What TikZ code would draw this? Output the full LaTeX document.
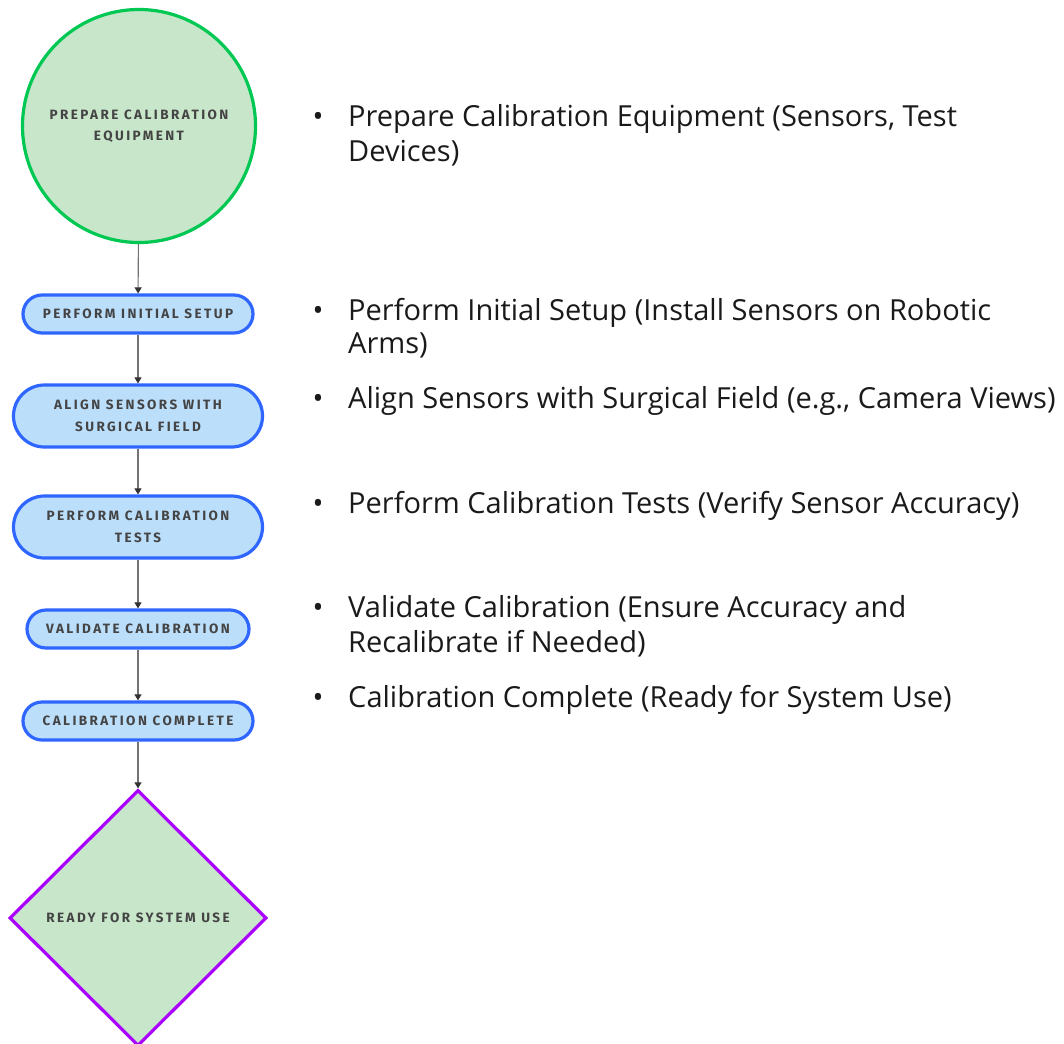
\documentclass[tikz,border=0pt]{standalone}
\usepackage{fontspec}
\setmainfont{Open Sans}
\newfontfamily\lblfont[LetterSpace=18]{Fira Sans}
\usetikzlibrary{shapes.geometric,arrows.meta}
\definecolor{cfill}{HTML}{C8E6C9}
\definecolor{cgreen}{HTML}{00C853}
\definecolor{bfill}{HTML}{BBDEFB}
\definecolor{bblue}{HTML}{2F66FF}
\definecolor{purp}{HTML}{AA00FF}
\definecolor{lbl}{HTML}{444444}
\definecolor{txt}{HTML}{1A1A1A}
\begin{document}
\begin{tikzpicture}[x=1pt,y=-1pt,
  lbltext/.style={font=\lblfont\bfseries\fontsize{13.5}{21.5}\selectfont, text=lbl, align=center},
  stepbox/.style={lbltext, draw=bblue, line width=3.2pt, fill=bfill, inner sep=0pt},
  startnode/.style={lbltext, circle, draw=cgreen, line width=3.2pt, fill=cfill, inner sep=0pt},
  endnode/.style={lbltext, diamond, draw=purp, line width=3.2pt, fill=cfill, inner sep=0pt, aspect=1},
  conn/.style={draw=black!55, line width=1.1pt, -{Triangle[length=6pt,width=7pt,color=black!80]}},
  item/.style={font=\fontsize{29}{34}\selectfont, text=txt, inner sep=0pt, anchor=base west},
  dot/.style={font=\fontsize{29}{34}\selectfont, text=txt, inner sep=0pt, anchor=base}]
\useasboundingbox (0,0) rectangle (1064,1043);
\fill[white] (0,0) rectangle (1064,1043);

\node[startnode, minimum size=233pt] (c0) at (139,126) {PREPARE CALIBRATION\\EQUIPMENT};
\node[stepbox, minimum width=230pt, minimum height=38pt, rounded corners=19pt] (s1) at (138,314) {PERFORM INITIAL SETUP};
\node[stepbox, minimum width=249pt, minimum height=62pt, rounded corners=31pt] (s2) at (138,416) {ALIGN SENSORS WITH\\SURGICAL FIELD};
\node[stepbox, minimum width=249pt, minimum height=62pt, rounded corners=31pt] (s3) at (138,527) {PERFORM CALIBRATION\\TESTS};
\node[stepbox, minimum width=222pt, minimum height=38pt, rounded corners=19pt] (s4) at (138,629) {VALIDATE CALIBRATION};
\node[stepbox, minimum width=230pt, minimum height=38pt, rounded corners=19pt] (s5) at (138,721) {CALIBRATION COMPLETE};
\node[endnode, minimum width=257pt, minimum height=256pt] (d0) at (138,918) {READY FOR SYSTEM USE};

\draw[conn] (c0) -- (s1);
\draw[conn] (s1) -- (s2);
\draw[conn] (s2) -- (s3);
\draw[conn] (s3) -- (s4);
\draw[conn] (s4) -- (s5);
\draw[conn] (s5) -- (d0);

\node[dot] (b1) at (318,127) {•};
\node[item] (t1a) at (348,127) {Prepare Calibration Equipment (Sensors, Test};
\node[item] (t1b) at (348,161) {Devices)};
\node[dot] (b2) at (318,320) {•};
\node[item] (t2a) at (348,320) {Perform Initial Setup (Install Sensors on Robotic};
\node[item] (t2b) at (348,353) {Arms)};
\node[dot] (b3) at (318,408) {•};
\node[item] (t3a) at (348,408) {Align Sensors with Surgical Field (e.g., Camera Views)};
\node[dot] (b4) at (318,513) {•};
\node[item] (t4a) at (348,513) {Perform Calibration Tests (Verify Sensor Accuracy)};
\node[dot] (b5) at (318,617) {•};
\node[item] (t5a) at (348,617) {Validate Calibration (Ensure Accuracy and};
\node[item] (t5b) at (348,652) {Recalibrate if Needed)};
\node[dot] (b6) at (318,707) {•};
\node[item] (t6a) at (348,707) {Calibration Complete (Ready for System Use)};
\end{tikzpicture}
\end{document}
